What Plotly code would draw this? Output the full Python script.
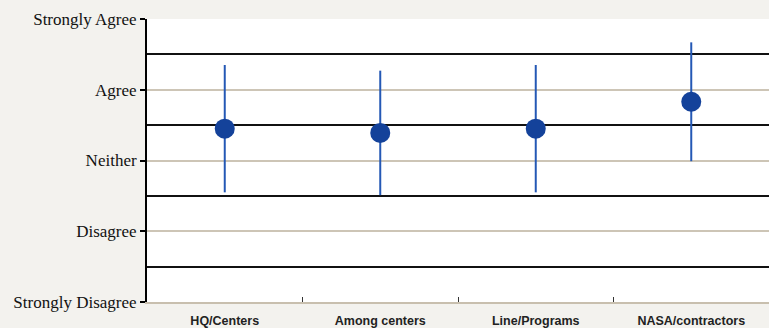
import plotly.graph_objects as go

# survey groups and their mean score with the +/- spread (1 = Strongly Disagree ... 5 = Strongly Agree)
groups = ['HQ/Centers', 'Among centers', 'Line/Programs', 'NASA/contractors']
means = [3.45, 3.39, 3.45, 3.83]
spread = [0.90, 0.88, 0.90, 0.84]

scale_vals = [1, 2, 3, 4, 5]
scale_text = ['Strongly Disagree', 'Disagree', 'Neither', 'Agree', 'Strongly Agree']
band_edges = [1.5, 2.5, 3.5, 4.5]

fig = go.Figure()

fig.add_trace(go.Scatter(
    x=groups,
    y=means,
    mode='markers',
    marker=dict(size=20, color='#14429a'),
    error_y=dict(type='data', array=spread, visible=True,
                 color='#2458b5', thickness=2, width=0),
    showlegend=False
))

fig.update_layout(
    width=769, height=328,
    margin=dict(l=147, r=0, t=19, b=26),
    paper_bgcolor='#f3f2ee',
    plot_bgcolor='white',
    xaxis=dict(
        type='category',
        range=[-0.5, 3.5],
        automargin=False,
        showgrid=False,
        showline=True, linecolor='#c8bfae', linewidth=1.5,
        ticks='inside', tickson='boundaries', ticklen=5, tickcolor='#333', tickwidth=1,
        ticklabelstandoff=6,
        tickfont=dict(family='Liberation Sans, Arial', size=12.5, color='#222', weight='bold'),
    ),
    yaxis=dict(
        range=[1, 5],
        automargin=False,
        tickvals=scale_vals, ticktext=scale_text,
        showgrid=True, gridcolor='#cdc5b6', gridwidth=1.5,
        showline=True, linecolor='black', linewidth=2,
        ticks='outside', ticklen=5, tickcolor='black', tickwidth=2,
        tickfont=dict(family='Liberation Serif, Times New Roman, serif', size=17, color='#111'),
        zeroline=False,
        minor=dict(tickmode='array', tickvals=band_edges, showgrid=True,
                   gridcolor='#111', gridwidth=1.5, ticks=''),
    ),
)

# drop the browser's default body margin so the chart sits at the page corner
fig.write_html("out.html", config={'displayModeBar': False},
               post_script="document.body.style.margin='0';")
